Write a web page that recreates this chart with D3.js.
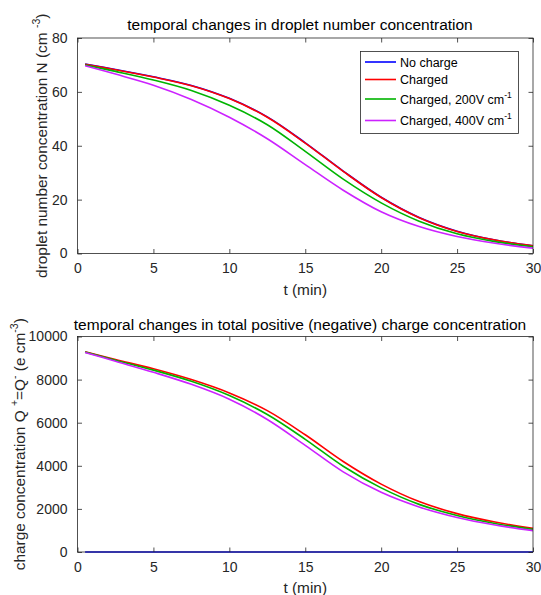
<!DOCTYPE html>
<html>
<head>
<meta charset="utf-8">
<script src="https://cdn.jsdelivr.net/npm/d3@7"></script>
<style>
  body { margin: 0; background: #ffffff; }
  svg { display: block; font-family: "Liberation Sans", Arial, Helvetica, sans-serif; }
</style>
</head>
<body>
<div id="chart"></div>
<script>
//time points (min)
var timeMin = [0.5, 2.5, 5, 7.5, 10, 12.5, 15, 17.5, 20, 22.5, 25, 27.5, 30];
//droplet number concentration N (cm-3)
var nNoCharge = [70.3, 68.3, 65.6, 62.4, 57.6, 50.7, 41.1, 30.6, 20.9, 13.4, 8.3, 5.0, 2.9];
var nCharged = [70.2, 68.2, 65.5, 62.3, 57.5, 50.6, 41.0, 30.5, 20.8, 13.3, 8.2, 5.0, 2.9];
var nCharged200 = [70.0, 67.6, 64.4, 60.5, 55.0, 47.8, 37.9, 27.6, 18.8, 12.0, 7.3, 4.4, 2.5];
var nCharged400 = [69.7, 66.6, 62.5, 57.2, 50.6, 42.6, 33.0, 23.5, 15.5, 10.0, 6.3, 3.8, 2.0];
//charge concentration Q+=Q- (e cm-3)
var qNoCharge = [0, 0, 0, 0, 0, 0, 0, 0, 0, 0, 0, 0, 0];
var qCharged = [9290, 8930, 8500, 8000, 7380, 6560, 5440, 4200, 3150, 2340, 1780, 1390, 1095];
var qCharged200 = [9275, 8900, 8440, 7920, 7260, 6380, 5230, 3980, 2975, 2210, 1695, 1325, 1050];
var qCharged400 = [9260, 8850, 8340, 7780, 7090, 6150, 4950, 3720, 2770, 2090, 1600, 1250, 990];
//legend labels and tick values
var seriesNames = ["No charge", "Charged", "Charged, 200V cm", "Charged, 400V cm"];
var seriesSup = ["", "", "-1", "-1"];
var seriesColors = ["#0000ff", "#ff0000", "#00b400", "#cc22ff"];
var xTicks = [0, 5, 10, 15, 20, 25, 30];
var nTicks = [0, 20, 40, 60, 80];
var qTicks = [0, 2000, 4000, 6000, 8000, 10000];

//set svg dimensions
var svgWidth = 541;
var svgHeight = 595;
var axisLeft = 77.5;
var axisRightEdge = 533;
var tickLen = 4.5;
var textColor = "#262626";

var svg = d3.select("#chart").append("svg")
    .attr("width", svgWidth)
    .attr("height", svgHeight);

//shared x scale
var xScale = d3.scaleLinear().domain([0, 30]).range([axisLeft, axisRightEdge]);

//draw one panel
function drawPanel(opts) {
    var yScale = d3.scaleLinear().domain(opts.domain).range([opts.bottom, opts.top]);
    var g = svg.append("g");

    //lines
    var line = d3.line()
        .x(d => xScale(d[0]))
        .y(d => yScale(d[1]))
        .curve(d3.curveCatmullRom.alpha(0.5));
    opts.series.forEach(function (vals, i) {
        var pts = timeMin.map((t, j) => [t, vals[j]]);
        g.append("path")
            .attr("d", line(pts))
            .attr("fill", "none")
            .attr("stroke", seriesColors[i])
            .attr("stroke-width", 1.6);
    });

    //bottom axis with labels
    var bottomAxis = d3.axisBottom(xScale).tickValues(xTicks)
        .tickSizeInner(-tickLen).tickSizeOuter(0).tickPadding(10);
    var xg = g.append("g")
        .attr("transform", `translate(0, ${opts.bottom})`)
        .call(bottomAxis);
    //top axis ticks only
    var topAxis = d3.axisTop(xScale).tickValues(xTicks)
        .tickSizeInner(-tickLen).tickSizeOuter(0).tickFormat("");
    var tg = g.append("g")
        .attr("transform", `translate(0, ${opts.top})`)
        .call(topAxis);
    //left axis with labels
    var leftAxis = d3.axisLeft(yScale).tickValues(opts.ticks)
        .tickSizeInner(-tickLen).tickSizeOuter(0).tickPadding(10)
        .tickFormat(d3.format("d"));
    var yg = g.append("g")
        .attr("transform", `translate(${axisLeft}, 0)`)
        .call(leftAxis);
    //right axis ticks only
    var rightAxis = d3.axisRight(yScale).tickValues(opts.ticks)
        .tickSizeInner(-tickLen).tickSizeOuter(0).tickFormat("");
    var rg = g.append("g")
        .attr("transform", `translate(${axisRightEdge}, 0)`)
        .call(rightAxis);

    [xg, tg, yg, rg].forEach(function (a) {
        a.select(".domain").remove();
        a.selectAll("line").attr("stroke", textColor).attr("stroke-width", 0.8);
        a.selectAll("text")
            .attr("fill", textColor)
            .style("font-size", "14px")
            .style("font-family", "'Liberation Sans', Arial, Helvetica, sans-serif");
    });

    //axes box
    g.append("rect")
        .attr("x", axisLeft)
        .attr("y", opts.top)
        .attr("width", axisRightEdge - axisLeft)
        .attr("height", opts.bottom - opts.top)
        .attr("fill", "none")
        .attr("stroke", textColor)
        .attr("stroke-width", 0.8);

    //title
    g.append("text")
        .attr("x", 300)
        .attr("y", opts.titleY)
        .attr("text-anchor", "middle")
        .attr("fill", "#000")
        .style("font-size", "15.5px")
        .text(opts.title);

    //x label
    g.append("text")
        .attr("x", (axisLeft + axisRightEdge) / 2)
        .attr("y", opts.bottom + 41)
        .attr("text-anchor", "middle")
        .attr("fill", textColor)
        .style("font-size", "15.4px")
        .text("t (min)");

    //y label with superscripts
    var yl = g.append("text")
        .attr("transform", `translate(${opts.yLabelX}, ${(opts.top + opts.bottom) / 2}) rotate(-90)`)
        .attr("text-anchor", "middle")
        .attr("fill", textColor)
        .style("font-size", "15.4px");
    opts.yLabelParts.forEach(function (p) {
        yl.append("tspan")
            .attr("dy", p.dy)
            .style("font-size", p.sup ? "10.5px" : "15.4px")
            .text(p.text);
    });
    return g;
}

//top panel: droplet number concentration
drawPanel({
    top: 38,
    bottom: 253.5,
    domain: [0, 80],
    ticks: nTicks,
    series: [nNoCharge, nCharged, nCharged200, nCharged400],
    title: "temporal changes in droplet number concentration",
    titleY: 30,
    yLabelX: 47,
    yLabelParts: [
        {text: "droplet number concentration N (cm ", dy: 0},
        {text: "-3", dy: -7, sup: true},
        {text: ")", dy: 7}
    ]
});

//bottom panel: charge concentration
drawPanel({
    top: 336.5,
    bottom: 552,
    domain: [0, 10000],
    ticks: qTicks,
    series: [qNoCharge, qCharged, qCharged200, qCharged400],
    title: "temporal changes in total positive (negative) charge concentration",
    titleY: 330,
    yLabelX: 25,
    yLabelParts: [
        {text: "charge concentration Q ", dy: 0},
        {text: "+", dy: -7, sup: true},
        {text: "=Q", dy: 7},
        {text: "-", dy: -7, sup: true},
        {text: " (e cm", dy: 7},
        {text: "-3", dy: -7, sup: true},
        {text: ")", dy: 7}
    ]
});

//legend in top panel
var legend = svg.append("g");
legend.append("rect")
    .attr("x", 360.5)
    .attr("y", 51.5)
    .attr("width", 158)
    .attr("height", 82)
    .attr("fill", "#fff")
    .attr("stroke", textColor)
    .attr("stroke-width", 0.8);
var legendRows = [62, 79.5, 99, 120.5];
seriesNames.forEach(function (name, i) {
    legend.append("line")
        .attr("x1", 365)
        .attr("x2", 396)
        .attr("y1", legendRows[i])
        .attr("y2", legendRows[i])
        .attr("stroke", seriesColors[i])
        .attr("stroke-width", 1.6);
    var t = legend.append("text")
        .attr("x", 400)
        .attr("y", legendRows[i] + 4.5)
        .attr("fill", "#000")
        .style("font-size", "12.5px")
        .text(name);
    if (seriesSup[i]) {
        t.append("tspan")
            .attr("dy", -6)
            .style("font-size", "8.5px")
            .text(seriesSup[i]);
    }
});
</script>
</body>
</html>
